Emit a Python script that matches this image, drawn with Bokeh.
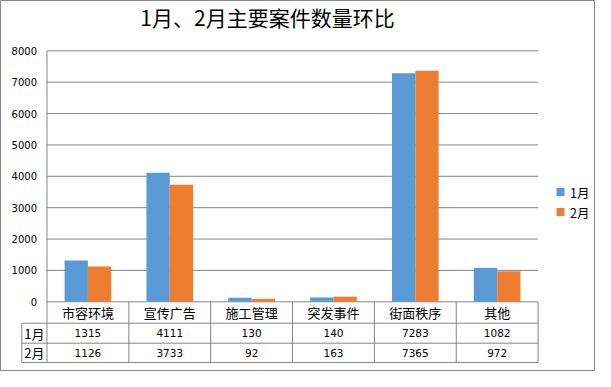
import numpy as np
from bokeh.plotting import figure
from bokeh.models import Range1d
from bokeh.core.properties import value
from bokeh.embed import file_html
from bokeh.resources import INLINE

# ---------------- data ----------------
title_text = "1月、2月主要案件数量环比"
categories = ["市容环境", "宣传广告", "施工管理", "突发事件", "街面秩序", "其他"]
series_names = ["1月", "2月"]
jan = [1315, 4111, 130, 140, 7283, 1082]
feb = [1126, 3733, 92, 163, 7365, 972]
y_ticks = [0, 1000, 2000, 3000, 4000, 5000, 6000, 7000, 8000]
y_max = 8000

# ---------------- style / layout ----------------
BLUE = "#5B9BD5"
ORANGE = "#ED7D31"
GRID = "#868686"
CJK = value("Noto Sans CJK SC")
NUM = value("DejaVu Sans")

W, H = 595, 371
OFF = 8                       # page margin
PLOT_L = 54.5 - OFF           # left of plot area (px)
COL_W = 81.85                 # category width (px)
Y0 = 309.3 - OFF              # zero line (px from top)
Y_TOP = 58.3 - OFF            # top gridline (px from top)
ROW1 = 330.7 - OFF
ROW2 = 350.7 - OFF
ROW3 = 370.0 - OFF
TABLE_L = 29.3 - OFF
BAR_W = 0.285

px_per_val = (Y0 - Y_TOP) / y_max
x_start = -PLOT_L / COL_W
x_end = (W - PLOT_L) / COL_W
y_start = -(H - Y0) / px_per_val
y_end = y_max + Y_TOP / px_per_val

n = len(categories)
idx = np.arange(n)

p = figure(width=W, height=H,
           x_range=Range1d(x_start, x_end), y_range=Range1d(y_start, y_end),
           output_backend="svg", toolbar_location=None,
           x_axis_location=None, y_axis_location=None,
           min_border=0, tools="")
p.extra_x_ranges = {"px": Range1d(0, W)}
p.extra_y_ranges = {"px": Range1d(H, 0)}
p.grid.visible = False
p.outline_line_color = GRID
p.outline_line_width = 1
p.background_fill_color = "white"
p.border_fill_color = "white"

# gridlines
p.segment(x0=[0] * len(y_ticks), x1=[n] * len(y_ticks), y0=y_ticks, y1=y_ticks,
          line_color=GRID, line_width=1)

# bars
p.vbar(x=idx + 0.5 - BAR_W / 2, top=jan, width=BAR_W, bottom=0,
       fill_color=BLUE, line_color=None)
p.vbar(x=idx + 0.5 + BAR_W / 2, top=feb, width=BAR_W, bottom=0,
       fill_color=ORANGE, line_color=None)

# y tick labels
p.text(x=[PLOT_L - 10] * len(y_ticks), y=y_ticks, text=[str(t) for t in y_ticks],
       x_range_name="px", text_font=NUM, text_font_size="10px", text_color="#000000",
       text_align="right", text_baseline="middle")

# left axis line (from top gridline down to table bottom)
p.segment(x0=[0], x1=[0], y0=[Y_TOP], y1=[ROW3], y_range_name="px",
          line_color=GRID, line_width=1)
# table column lines
p.segment(x0=list(idx + 1), x1=list(idx + 1), y0=[Y0] * n, y1=[ROW3] * n,
          y_range_name="px", line_color=GRID, line_width=1)
# table row lines
right_px = PLOT_L + n * COL_W
p.segment(x0=[TABLE_L] * 3, x1=[right_px] * 3, y0=[ROW1, ROW2, ROW3], y1=[ROW1, ROW2, ROW3],
          x_range_name="px", y_range_name="px", line_color=GRID, line_width=1)
p.segment(x0=[TABLE_L], x1=[TABLE_L], y0=[ROW1], y1=[ROW3],
          x_range_name="px", y_range_name="px", line_color=GRID, line_width=1)

# table text
p.text(x=list(idx + 0.5), y=[(Y0 + ROW1) / 2] * n, text=categories, y_range_name="px",
       text_font=CJK, text_font_size="13px", text_color="#000000",
       text_align="center", text_baseline="middle")
p.text(x=list(idx + 0.5), y=[(ROW1 + ROW2) / 2] * n, text=[str(v) for v in jan],
       y_range_name="px", text_font=NUM, text_font_size="10.5px", text_color="#000000",
       text_align="center", text_baseline="middle")
p.text(x=list(idx + 0.5), y=[(ROW2 + ROW3) / 2] * n, text=[str(v) for v in feb],
       y_range_name="px", text_font=NUM, text_font_size="10.5px", text_color="#000000",
       text_align="center", text_baseline="middle")
p.text(x=[(TABLE_L + PLOT_L) / 2] * 2, y=[(ROW1 + ROW2) / 2, (ROW2 + ROW3) / 2],
       text=series_names, x_range_name="px", y_range_name="px",
       text_font=CJK, text_font_size="13px", text_color="#000000",
       text_align="center", text_baseline="middle")

# title
p.text(x=[275 - OFF], y=[1], text=[title_text], x_range_name="px", y_range_name="px",
       text_font=CJK, text_font_size="21px", text_color="#000000",
       text_align="center", text_baseline="top")

# legend
leg_x = 568 - OFF
leg_y = [199.5 - OFF, 219.5 - OFF]
p.scatter(x=[leg_x] * 2, y=leg_y, marker="square", size=8,
          fill_color=[BLUE, ORANGE], line_color=None,
          x_range_name="px", y_range_name="px")
p.text(x=[577.5 - OFF] * 2, y=leg_y, text=series_names, x_range_name="px", y_range_name="px",
       text_font=CJK, text_font_size="12.5px", text_color="#000000",
       text_align="left", text_baseline="middle")

open("out.html", "w").write(file_html(p, INLINE))
